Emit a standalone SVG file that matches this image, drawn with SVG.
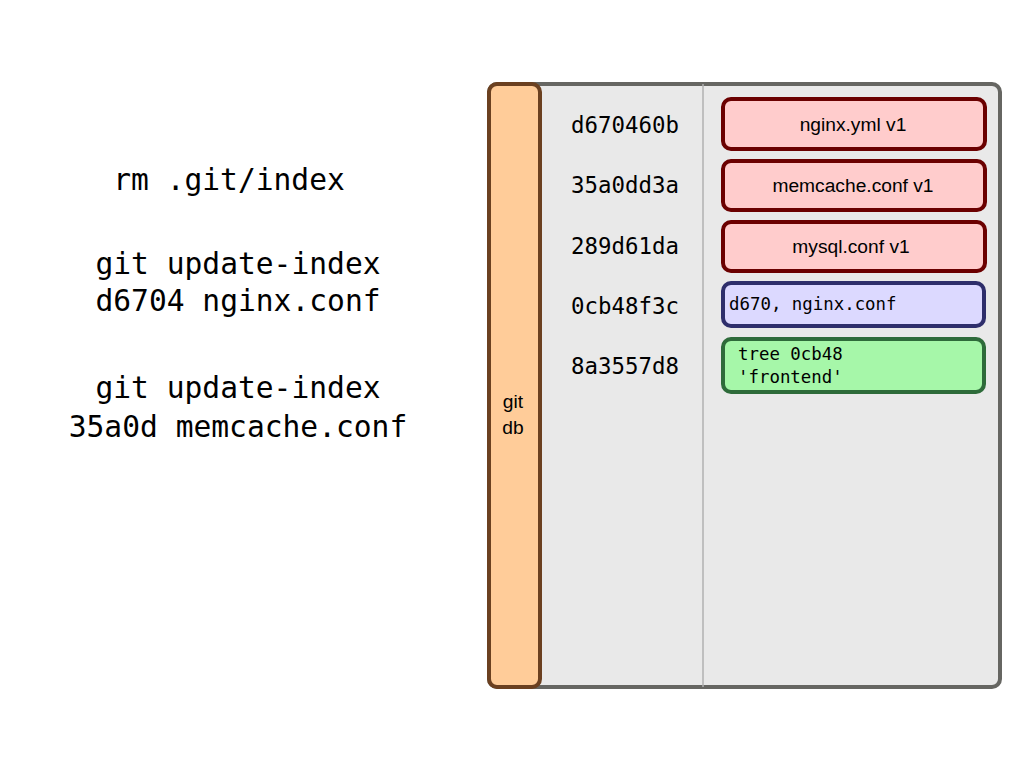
<svg xmlns="http://www.w3.org/2000/svg" width="1024" height="768" viewBox="0 0 1024 768">
<style>
.cmd{font-family:"DejaVu Sans Mono","Liberation Mono",monospace;font-size:29.6px;fill:#000;text-anchor:middle}
.hash{font-family:"DejaVu Sans Mono","Liberation Mono",monospace;font-size:22.4px;fill:#000;text-anchor:middle}
.lbl{font-family:"Liberation Sans",Arial,sans-serif;font-size:19.2px;fill:#000;text-anchor:middle}
.mono{font-family:"DejaVu Sans Mono","Liberation Mono",monospace;font-size:17.4px;fill:#000}
.blob{fill:#ffcccc;stroke:#6b0000;stroke-width:4}
</style>
<rect width="1024" height="768" fill="#fff"/>
<g id="commands">
<text class="cmd" x="229" y="190">rm .git/index</text>
<text class="cmd" x="238" y="274">git update-index</text>
<text class="cmd" x="238" y="311">d6704 nginx.conf</text>
<text class="cmd" x="238" y="398">git update-index</text>
<text class="cmd" x="238" y="437">35a0d memcache.conf</text>
</g>
<g id="db">
<rect x="489" y="84" width="511" height="603" rx="8" fill="#e9e9e9" stroke="#666662" stroke-width="4"/>
<line x1="703" y1="84" x2="703" y2="687" stroke="#b0b0b0" stroke-width="1.5"/>
</g>
<g id="gitdb">
<rect x="489" y="84" width="51" height="603" rx="8" fill="#ffcc99" stroke="#6b4020" stroke-width="4"/>
<text class="lbl" x="513" y="408">git</text>
<text class="lbl" x="513" y="434">db</text>
</g>
<g id="hashes">
<text class="hash" x="625" y="133">d670460b</text>
<text class="hash" x="625" y="193">35a0dd3a</text>
<text class="hash" x="625" y="254">289d61da</text>
<text class="hash" x="625" y="314">0cb48f3c</text>
<text class="hash" x="625" y="374">8a3557d8</text>
</g>
<g id="blob1">
<rect class="blob" x="723" y="99" width="262" height="50" rx="8"/>
<text class="lbl" x="853" y="131">nginx.yml v1</text>
</g>
<g id="blob2">
<rect class="blob" x="723" y="161" width="262" height="49" rx="8"/>
<text class="lbl" x="853" y="192">memcache.conf v1</text>
</g>
<g id="blob3">
<rect class="blob" x="723" y="222" width="262" height="49" rx="8"/>
<text class="lbl" x="851" y="253">mysql.conf v1</text>
</g>
<g id="index">
<rect x="723" y="283" width="261" height="43" rx="8" fill="#dcd9ff" stroke="#2e2e6b" stroke-width="4"/>
<text class="mono" x="729" y="310">d670, nginx.conf</text>
</g>
<g id="tree">
<rect x="723" y="339" width="261" height="53" rx="8" fill="#a6f7a9" stroke="#2e6b3a" stroke-width="4"/>
<text class="mono" x="738" y="360">tree 0cb48</text>
<text class="mono" x="738" y="383">'frontend'</text>
</g>
<g id="connectors"></g>
</svg>
